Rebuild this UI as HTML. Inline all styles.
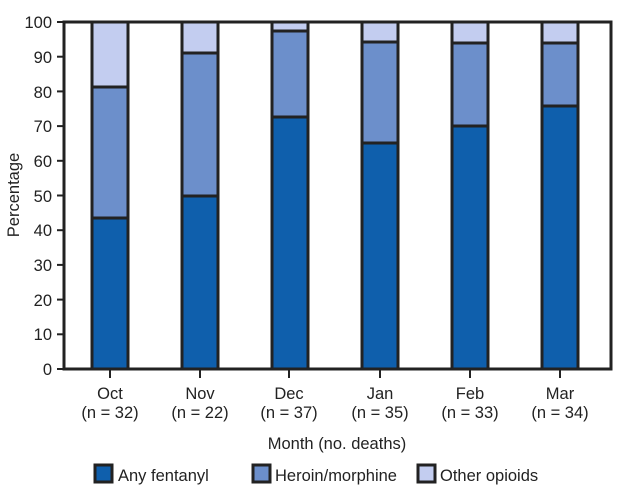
<!DOCTYPE html>
<html><head><style>body{margin:0;background:#fff}svg{display:block;font-family:"Liberation Sans",sans-serif}</style></head><body>
<svg width="625" height="503" viewBox="0 0 625 503">
<g stroke="#222" stroke-width="3" fill="none">
<rect x="64" y="22" width="547" height="347"/>
</g>
<g stroke="#222" stroke-width="2">
<line x1="57" y1="369" x2="64" y2="369"/><line x1="57" y1="334.3" x2="64" y2="334.3"/><line x1="57" y1="299.6" x2="64" y2="299.6"/><line x1="57" y1="264.9" x2="64" y2="264.9"/><line x1="57" y1="230.2" x2="64" y2="230.2"/><line x1="57" y1="195.5" x2="64" y2="195.5"/><line x1="57" y1="160.8" x2="64" y2="160.8"/><line x1="57" y1="126.1" x2="64" y2="126.1"/><line x1="57" y1="91.4" x2="64" y2="91.4"/><line x1="57" y1="56.7" x2="64" y2="56.7"/><line x1="57" y1="22" x2="64" y2="22"/>
<line x1="110" y1="369" x2="110" y2="378"/><line x1="200" y1="369" x2="200" y2="378"/><line x1="289" y1="369" x2="289" y2="378"/><line x1="380" y1="369" x2="380" y2="378"/><line x1="470" y1="369" x2="470" y2="378"/><line x1="560" y1="369" x2="560" y2="378"/>
</g>
<g stroke="#222" stroke-width="3">
<rect x="92" y="22" width="36" height="65" fill="#c3cdf0"/><rect x="92" y="87" width="36" height="131" fill="#6c8fcb"/><rect x="92" y="218" width="36" height="151" fill="#0f5fac"/>
<rect x="182" y="22" width="36" height="31" fill="#c3cdf0"/><rect x="182" y="53" width="36" height="143" fill="#6c8fcb"/><rect x="182" y="196" width="36" height="173" fill="#0f5fac"/>
<rect x="272" y="22" width="36" height="9" fill="#c3cdf0"/><rect x="272" y="31" width="36" height="86" fill="#6c8fcb"/><rect x="272" y="117" width="36" height="252" fill="#0f5fac"/>
<rect x="362" y="22" width="36" height="20" fill="#c3cdf0"/><rect x="362" y="42" width="36" height="101" fill="#6c8fcb"/><rect x="362" y="143" width="36" height="226" fill="#0f5fac"/>
<rect x="452" y="22" width="36" height="21" fill="#c3cdf0"/><rect x="452" y="43" width="36" height="83" fill="#6c8fcb"/><rect x="452" y="126" width="36" height="243" fill="#0f5fac"/>
<rect x="542" y="22" width="36" height="21" fill="#c3cdf0"/><rect x="542" y="43" width="36" height="63" fill="#6c8fcb"/><rect x="542" y="106" width="36" height="263" fill="#0f5fac"/>
</g>
<g font-size="16.5" fill="#222" text-anchor="end">
<text x="52" y="375">0</text><text x="52" y="340">10</text><text x="52" y="306">20</text><text x="52" y="271">30</text><text x="52" y="236">40</text><text x="52" y="202">50</text><text x="52" y="167">60</text><text x="52" y="132">70</text><text x="52" y="98">80</text><text x="52" y="63">90</text><text x="52" y="28">100</text>
</g>
<text transform="translate(19,195) rotate(-90)" font-size="16.5" fill="#222" text-anchor="middle">Percentage</text>
<g font-size="16.5" fill="#222" text-anchor="middle">
<text x="110" y="399">Oct</text><text x="110" y="418">(n = 32)</text>
<text x="200" y="399">Nov</text><text x="200" y="418">(n = 22)</text>
<text x="289" y="399">Dec</text><text x="289" y="418">(n = 37)</text>
<text x="380" y="399">Jan</text><text x="380" y="418">(n = 35)</text>
<text x="470" y="399">Feb</text><text x="470" y="418">(n = 33)</text>
<text x="560" y="399">Mar</text><text x="560" y="418">(n = 34)</text>
<text x="337" y="449">Month (no. deaths)</text>
</g>
<g stroke="#222" stroke-width="3">
<rect x="95" y="465" width="17" height="17" fill="#0f5fac"/>
<rect x="253" y="465" width="17" height="17" fill="#6c8fcb"/>
<rect x="418" y="465" width="17" height="17" fill="#c3cdf0"/>
</g>
<g font-size="16.5" fill="#222">
<text x="118" y="481">Any fentanyl</text>
<text x="275" y="481">Heroin/morphine</text>
<text x="440" y="481">Other opioids</text>
</g>
</svg>
</body></html>
